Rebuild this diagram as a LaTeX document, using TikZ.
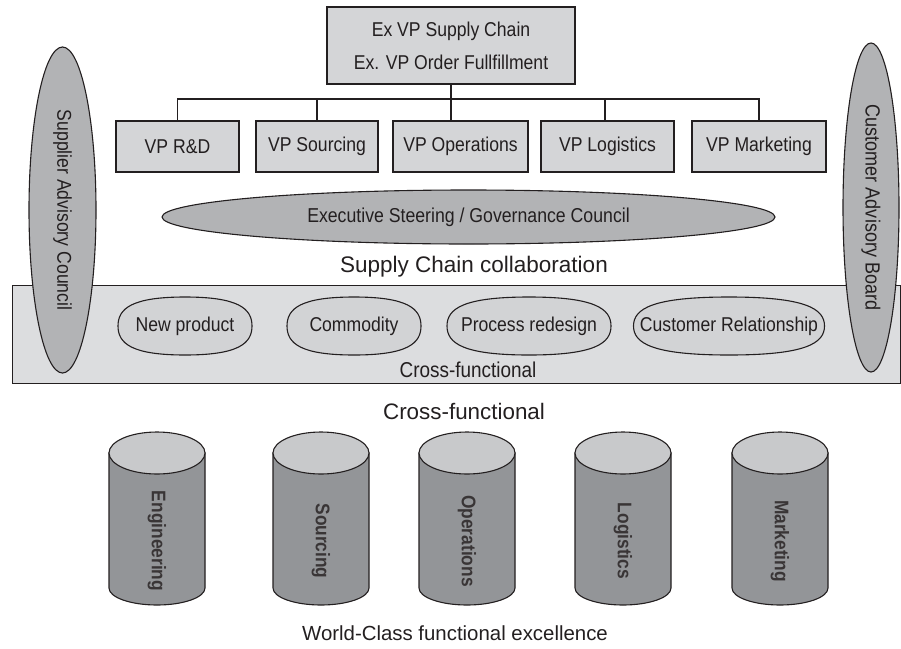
\documentclass[tikz,border=0pt]{standalone}
\usepackage{fontspec}
\setmainfont{Liberation Sans}
\newfontfamily\narrowfont[FakeStretch=0.88]{Liberation Sans}
\usetikzlibrary{shapes.geometric}
\definecolor{ink}{HTML}{231F20}
\definecolor{boxfill}{HTML}{D4D5D7}
\definecolor{ellfill}{HTML}{B2B3B5}
\definecolor{bandfill}{HTML}{DCDDDF}
\definecolor{smallfill}{HTML}{D2D3D5}
\definecolor{cylbody}{HTML}{939598}
\definecolor{cyltop}{HTML}{C8C9CB}
\tikzset{
  base/.style={draw=ink, line width=1.1pt, text=ink},
  vpbox/.style={base, fill=boxfill, rectangle, minimum width=#1, minimum height=51, inner sep=0pt,
    font=\narrowfont\fontsize{20}{24}\selectfont},
  bigell/.style={base, fill=ellfill, ellipse, inner sep=0pt},
  lbl/.style={text=ink, inner sep=0pt},
  smalltxt/.style={lbl, font=\narrowfont\fontsize{20}{24}\selectfont},
  cyltext/.style={text=ink!90, inner sep=0pt, rotate=-90, font=\narrowfont\fontsize{19.7}{23}\selectfont\bfseries},
  conn/.style={draw=ink, line width=1.1pt}
}
\begin{document}
\begin{tikzpicture}[x=1pt,y=1pt]
\useasboundingbox (0,0) rectangle (901,-648);
% top box
\node[base, fill=boxfill, minimum width=248, minimum height=77, inner sep=0pt, align=center,
  font=\narrowfont\fontsize{20}{33}\selectfont] (top) at (451,-45.5) {Ex VP Supply Chain\\Ex. VP Order Fullfillment};
% VP boxes
\node[vpbox=123] (vp1) at (177.5,-146.5) {VP R\&D};
\node[vpbox=122] (vp2) at (317,-146.5) {VP Sourcing};
\node[vpbox=135] (vp3) at (460.5,-146.5) {VP Operations};
\node[vpbox=133] (vp4) at (607.5,-146.5) {VP Logistics};
\node[vpbox=134] (vp5) at (759,-146.5) {VP Marketing};
% connectors
\coordinate (bus) at (451,-99);
\draw[conn] (top.south) -- (bus);
\draw[conn] (bus) -| (vp1.north);
\draw[conn] (bus) -- (317,-99) -- (vp2.north);
\draw[conn] (bus) -- (bus |- vp3.north);
\draw[conn] (bus) -- (605,-99) -- (605,-121);
\draw[conn] (bus) -| (vp5.north);
% executive ellipse
\node[bigell, minimum width=613, minimum height=54] (exec) at (468.5,-217) {};
\node[lbl, font=\narrowfont\fontsize{20.1}{24}\selectfont] (exect) at (exec.center) {Executive Steering / Governance Council};
% supply chain label
\node[lbl, font=\fontsize{22.5}{26}\selectfont] (scc) at (474,-267) {Supply Chain collaboration};
% band
\node[base, fill=bandfill, rectangle, minimum width=888, minimum height=98, inner sep=0pt, anchor=north west] (band) at (12,-285) {};
\node[lbl, font=\narrowfont\fontsize{21.5}{25}\selectfont] (cf1) at (468,-370) {Cross-functional};
% small rounded ellipses
\foreach \cx/\a/\name/\txt in {185/67/np/New product, 354/67/cm/Commodity, 529/82/pr/Process redesign, 729/95.5/cr/Customer Relationship}{
  \pgfmathsetmacro{\kx}{0.8*\a}
  \filldraw[draw=ink, fill=smallfill, line width=1.1pt]
    (\cx-\a,-326) .. controls (\cx-\a,-326+17.4) and (\cx-\kx,-297) .. (\cx,-297)
    .. controls (\cx+\kx,-297) and (\cx+\a,-326+17.4) .. (\cx+\a,-326)
    .. controls (\cx+\a,-326-17.4) and (\cx+\kx,-355) .. (\cx,-355)
    .. controls (\cx-\kx,-355) and (\cx-\a,-326-17.4) .. (\cx-\a,-326) -- cycle;
  \node[smalltxt] (\name) at (\cx,-326) {\txt};
}
% advisory ellipses
\node[bigell, minimum width=67, minimum height=326] (sac) at (62.5,-210) {};
\node[lbl, rotate=-90, font=\narrowfont\fontsize{20}{24}\selectfont] (sact) at (sac.center) {Supplier Advisory Council};
\node[bigell, minimum width=56, minimum height=329] (cab) at (871,-207.5) {};
\node[lbl, rotate=-90, font=\narrowfont\fontsize{20.5}{24}\selectfont] (cabt) at (cab.center) {Customer Advisory Board};
% cross-functional below
\node[lbl, font=\fontsize{22.4}{26}\selectfont] (cf2) at (464,-411) {Cross-functional};
% cylinders
\foreach \cx/\name/\txt in {157/c1/Engineering, 321/c2/Sourcing, 467/c3/Operations, 623/c4/Logistics, 780/c5/Marketing}{
  \filldraw[draw=ink, fill=cylbody, line width=1.1pt] (\cx-48,-453) -- (\cx-48,-588)
    arc[start angle=180, end angle=360, x radius=48, y radius=17] -- (\cx+48,-453) -- cycle;
  \filldraw[draw=ink, fill=cyltop, line width=1.1pt] (\cx,-453) ellipse[x radius=48, y radius=21];
  \node[cyltext] (\name) at (\cx,-541) {\txt};
}
\node[lbl, font=\fontsize{20.4}{24}\selectfont] (wc) at (455,-633) {World-Class functional excellence};
\end{tikzpicture}
\end{document}
